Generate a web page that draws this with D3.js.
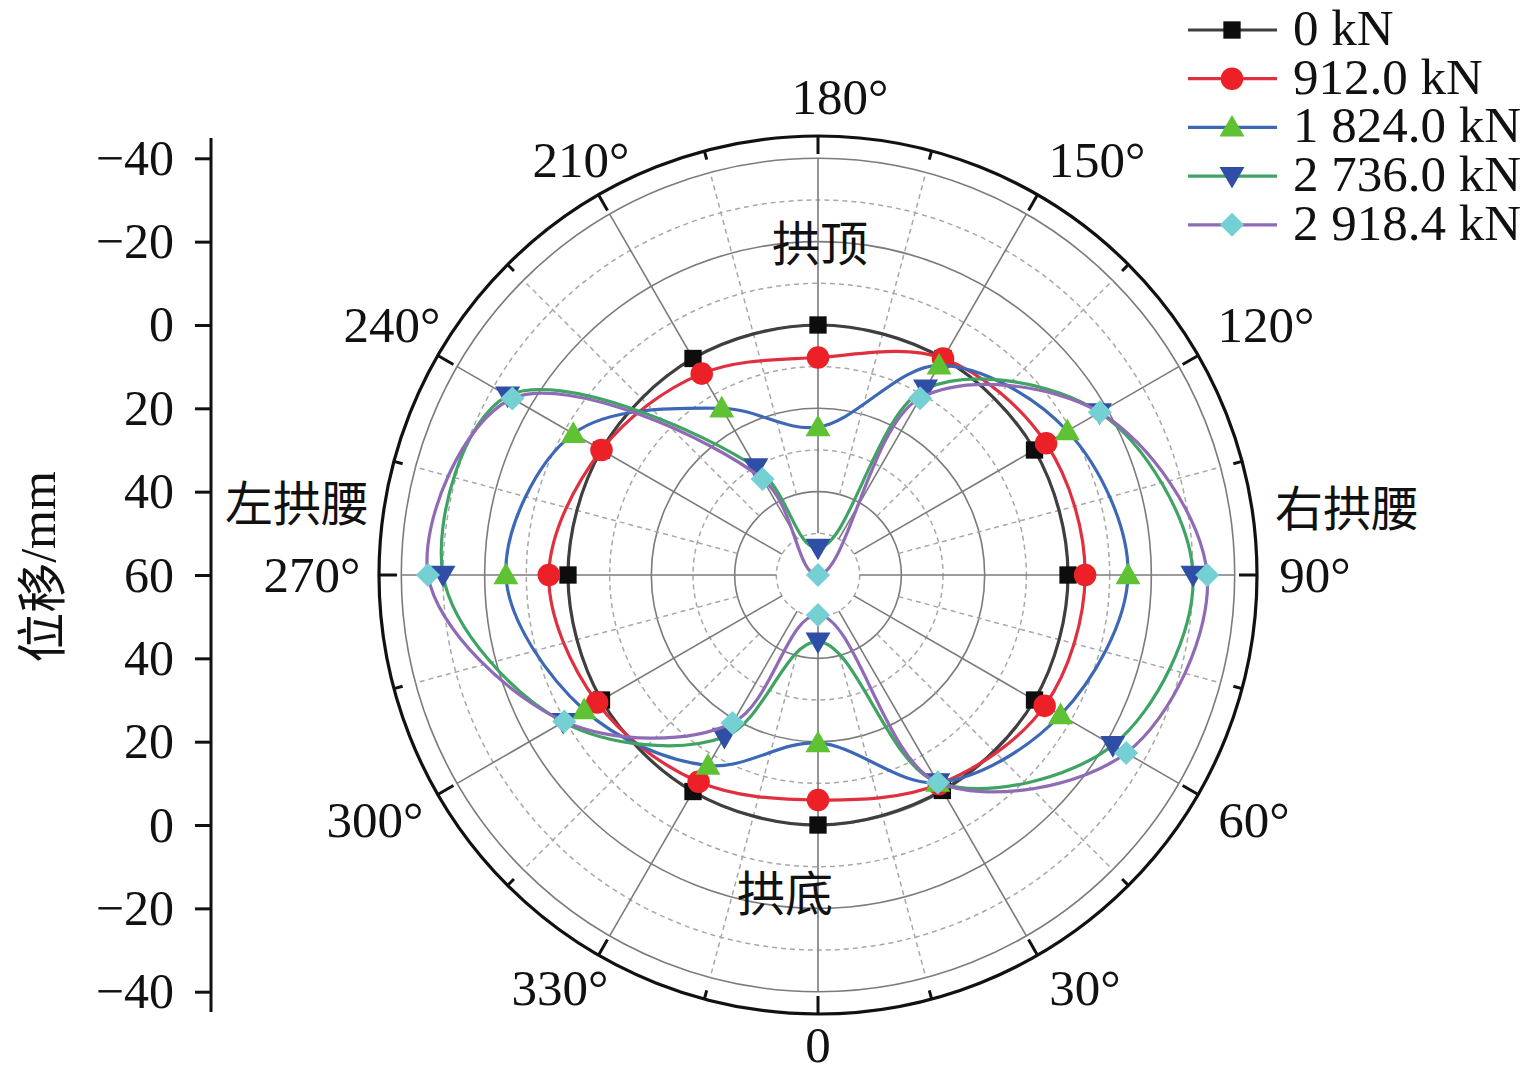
<!DOCTYPE html>
<html><head><meta charset="utf-8">
<script src="https://cdn.jsdelivr.net/npm/d3@7"></script>
<style>body{margin:0;background:#fff} svg{display:block}</style>
</head><body>
<svg id="chart" width="1535" height="1079"></svg>
<script>
// ---------- data ----------
const angles = [0, 30, 60, 90, 120, 150, 180, 210, 240, 270, 300, 330];
const seriesNames = ["0 kN", "912.0 kN", "1 824.0 kN", "2 736.0 kN", "2 918.4 kN"];
const load0    = [0, 0.3, 0, 0, 0, 0, 0, 0, 0, 0, 0, 0];
const load912  = [6.0, 2.0, -2.8, -4.1, -3.2, 0, 7.8, 4.2, 0, -4.6, -1.2, 2.7];
const load1824 = [19.7, 2.5, -7.2, -14.4, -9.1, 1.9, 24.5, 13.8, -7.8, -14.9, -4.8, 7.2];
const load2736 = [44.0, 2.5, -21.7, -30.0, -18.0, 8.4, 53.5, 30.2, -26.0, -30.0, -10.6, 15.1];
const load2918 = [50.4, 2.5, -25.4, -33.4, -18.1, 11.0, 60.0, 33.4, -24.7, -33.6, -10.3, 19.0];
const angleTicks = [0, 30, 60, 90, 120, 150, 180, 210, 240, 270, 300, 330];
const angleTickLabels = ["0", "30°", "60°", "90°", "120°", "150°", "180°", "210°", "240°", "270°", "300°", "330°"];
const radialTicks = [-40, -20, 0, 20, 40, 60];
const regionLabels = ["拱顶", "拱底", "左拱腰", "右拱腰"];

// ---------- styles ----------
const lineColors   = ["#3f3f42", "#e0303f", "#3d68b5", "#3fa463", "#8f6bb5"];
const markerColors = ["#0d0d0d", "#ec2128", "#5ec233", "#2f4ea6", "#74d0d3"];
const markerShapes = ["square", "circle", "triUp", "triDown", "diamond"];
const seriesValues = [load0, load912, load1824, load2736, load2918];

const svg = d3.select("#chart");
const cx = 818, cy = 575;
const Rgrid = 416.7, Rout = 439;
const serif = "'Liberation Serif','Times New Roman',serif";
const cjk = "'Noto Sans CJK SC','Noto Sans CJK JP',sans-serif";

const rScale = d3.scaleLinear().domain([60, -40]).range([0, Rgrid]);
const aScale = d3.scaleLinear().domain([0, 360]).range([Math.PI, -Math.PI]);
const px = (deg, r) => cx + r * Math.sin(aScale(deg));
const py = (deg, r) => cy - r * Math.cos(aScale(deg));

const g = svg.append("g");

// ---------- grid circles ----------
const solidRings = [40, 20, 0, -20, -40];
const dashRings = [50, 30, 10, -10, -30];
g.selectAll("circle.dash").data(dashRings).join("circle")
  .attr("cx", cx).attr("cy", cy).attr("r", d => rScale(d))
  .attr("fill", "none").attr("stroke", "#a8a8a8").attr("stroke-width", 1.5)
  .attr("stroke-dasharray", "5,4");
g.selectAll("circle.solid").data(solidRings).join("circle")
  .attr("cx", cx).attr("cy", cy).attr("r", d => rScale(d))
  .attr("fill", "none").attr("stroke", "#7b7b7f").attr("stroke-width", 1.6);

// ---------- spokes ----------
const minorAngles = d3.range(15, 360, 30);
g.selectAll("line.minor").data(minorAngles).join("line")
  .attr("x1", d => px(d, rScale(40))).attr("y1", d => py(d, rScale(40)))
  .attr("x2", d => px(d, Rgrid)).attr("y2", d => py(d, Rgrid))
  .attr("stroke", "#a8a8a8").attr("stroke-width", 1.5).attr("stroke-dasharray", "5,4");
g.selectAll("line.major").data(angleTicks).join("line")
  .attr("x1", d => px(d, rScale(50))).attr("y1", d => py(d, rScale(50)))
  .attr("x2", d => px(d, Rgrid)).attr("y2", d => py(d, Rgrid))
  .attr("stroke", "#7b7b7f").attr("stroke-width", 1.6);

// ---------- outer circle + ticks ----------
g.append("circle").attr("cx", cx).attr("cy", cy).attr("r", Rout)
  .attr("fill", "none").attr("stroke", "#111").attr("stroke-width", 3.2);
g.selectAll("line.otick").data(angleTicks).join("line")
  .attr("x1", d => px(d, Rout)).attr("y1", d => py(d, Rout))
  .attr("x2", d => px(d, Rout - 18)).attr("y2", d => py(d, Rout - 18))
  .attr("stroke", "#111").attr("stroke-width", 3);
g.selectAll("line.mtick").data(minorAngles).join("line")
  .attr("x1", d => px(d, Rout)).attr("y1", d => py(d, Rout))
  .attr("x2", d => px(d, Rout - 9)).attr("y2", d => py(d, Rout - 9))
  .attr("stroke", "#111").attr("stroke-width", 3);

// ---------- angle labels (placed on a ring, nudged like the original) ----------
const labelR = 478;
const labelNudge = {0: [0, -8], 30: [28, -1], 60: [22, 6], 90: [19, 0], 120: [34, -11], 150: [40, -1],
                    180: [22, 0], 210: [2, -1], 240: [-12, -11], 270: [-28, 0], 300: [-29, 6], 330: [-19, -1]};
angleTicks.forEach((a, i) => {
  const n = labelNudge[a];
  svg.append("text").attr("x", px(a, labelR) + n[0]).attr("y", py(a, labelR) + n[1])
    .attr("text-anchor", "middle").attr("dominant-baseline", "central")
    .attr("font-family", serif).attr("font-size", 51).attr("fill", "#111")
    .text(angleTickLabels[i]);
});

// ---------- region labels ----------
const regionPos = [[820, 240], [785, 890], [297, 500], [1347, 505]];
regionLabels.forEach((t, i) => {
  svg.append("text").attr("x", regionPos[i][0]).attr("y", regionPos[i][1])
    .attr("text-anchor", "middle").attr("dominant-baseline", "central")
    .attr("font-family", cjk).attr("font-size", 48).attr("fill", "#111").text(t);
});

// ---------- series ----------
function symPath(shape) {
  if (shape === "square") return d3.symbol(d3.symbolSquare, 300)();
  if (shape === "circle") return d3.symbol(d3.symbolCircle, 400)();
  if (shape === "triUp" || shape === "triDown") return d3.symbol(d3.symbolTriangle, 270)();
  return d3.symbol(d3.symbolSquare, 290)();
}
function symRot(shape) {
  if (shape === "triDown") return 180;
  if (shape === "diamond") return 45;
  return 0;
}
const lineGen = d3.lineRadial()
  .angle(d => aScale(d.angle)).radius(d => rScale(d.value))
  .curve(d3.curveCatmullRomClosed.alpha(0.5));

const sg = svg.append("g").attr("transform", `translate(${cx},${cy})`);
seriesValues.forEach((vals, si) => {
  const pts = angles.map((a, i) => ({ angle: a, value: vals[i] }));
  sg.append("path").datum(pts).attr("d", lineGen)
    .attr("fill", "none").attr("stroke", lineColors[si]).attr("stroke-width", 3.2);
  sg.selectAll(null).data(pts).join("path")
    .attr("d", symPath(markerShapes[si]))
    .attr("transform", d => {
      const r = rScale(d.value), a = aScale(d.angle);
      const x = r * Math.sin(a), y = -r * Math.cos(a);
      const yo = markerShapes[si] === "triUp" ? 2 : (markerShapes[si] === "triDown" ? -2 : 0);
      return `translate(${x},${y + yo}) rotate(${symRot(markerShapes[si])})`;
    })
    .attr("fill", markerColors[si]);
});

// ---------- left radial axis ----------
const fmt = d => d < 0 ? "\u2212" + Math.abs(d) : String(d);
const axisX = 211;
const yTop = d3.scaleLinear().domain([60, -40]).range([cy, cy - Rgrid]);
const yBot = d3.scaleLinear().domain([60, -40]).range([cy, cy + Rgrid]);
const axTop = svg.append("g").attr("transform", `translate(${axisX},0)`)
  .call(d3.axisLeft(yTop).tickValues(radialTicks).tickSize(16).tickPadding(21).tickFormat(fmt));
const axBot = svg.append("g").attr("transform", `translate(${axisX},0)`)
  .call(d3.axisLeft(yBot).tickValues(radialTicks.filter(d => d !== 60)).tickSize(16).tickPadding(21).tickFormat(fmt));
[axTop, axBot].forEach(ax => {
  ax.select(".domain").remove();
  ax.selectAll(".tick line").attr("stroke", "#111").attr("stroke-width", 3);
  ax.selectAll(".tick text").attr("font-family", serif).attr("font-size", 50).attr("fill", "#111");
});
svg.append("line").attr("x1", axisX).attr("x2", axisX)
  .attr("y1", cy - Rout + 2).attr("y2", cy + Rout - 2)
  .attr("stroke", "#111").attr("stroke-width", 3);
const title = svg.append("text").attr("transform", `translate(38,${cy - 8}) rotate(-90)`)
  .attr("text-anchor", "middle").attr("dominant-baseline", "central")
  .attr("font-size", 50).attr("fill", "#111");
title.append("tspan").attr("font-family", cjk).text("位移");
title.append("tspan").attr("font-family", serif).text("/mm");

// ---------- legend ----------
const legX0 = 1188, legX1 = 1277, legMx = 1232, legTx = 1293, legY0 = 30, legDy = 48.7;
seriesNames.forEach((name, si) => {
  const y = legY0 + si * legDy;
  svg.append("line").attr("x1", legX0).attr("x2", legX1).attr("y1", y).attr("y2", y)
    .attr("stroke", lineColors[si]).attr("stroke-width", 3.2);
  const yo = markerShapes[si] === "triUp" ? 2 : (markerShapes[si] === "triDown" ? -2 : 0);
  svg.append("path").attr("d", symPath(markerShapes[si]))
    .attr("transform", `translate(${legMx},${y + yo}) rotate(${symRot(markerShapes[si])})`)
    .attr("fill", markerColors[si]);
  svg.append("text").attr("x", legTx).attr("y", y + 15)
    .attr("font-family", serif).attr("font-size", 51).attr("fill", "#111").text(name);
});
</script>
</body></html>
